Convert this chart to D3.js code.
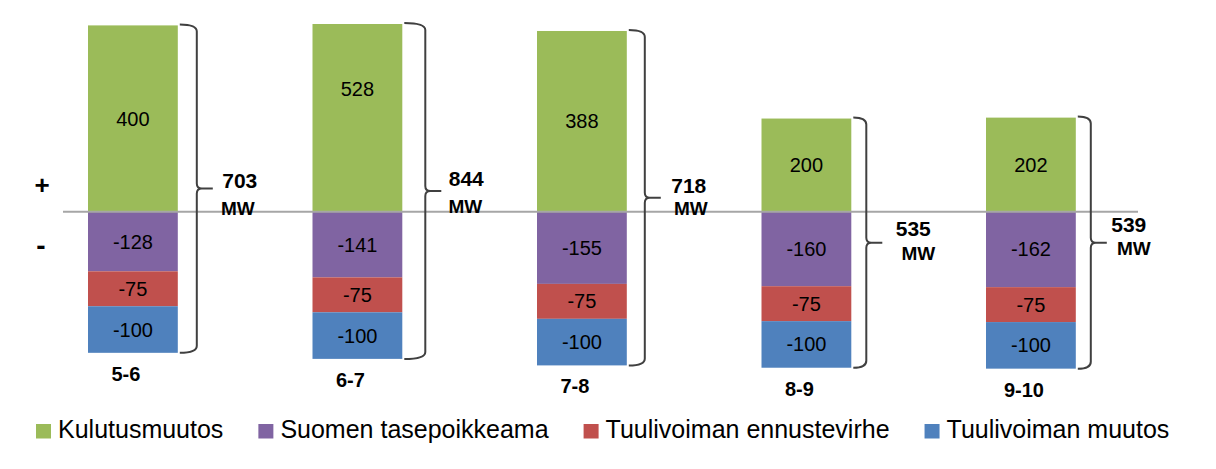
<!DOCTYPE html>
<html>
<head>
<meta charset="utf-8">
<script src="https://cdn.jsdelivr.net/npm/d3@7"></script>
<style>
  html, body { margin: 0; padding: 0; background: #fff; }
  svg { display: block; font-family: "Liberation Sans", Arial, sans-serif; }
</style>
</head>
<body>
<svg id="chart" width="1216" height="469"></svg>
<script>
// ---- Data ----
const categories = ["5-6", "6-7", "7-8", "8-9", "9-10"];
const seriesNames = ["Kulutusmuutos", "Suomen tasepoikkeama", "Tuulivoiman ennustevirhe", "Tuulivoiman muutos"];
const kulutusmuutos = [400, 528, 388, 200, 202];
const suomenTasepoikkeama = [-128, -141, -155, -160, -162];
const tuulivoimanEnnustevirhe = [-75, -75, -75, -75, -75];
const tuulivoimanMuutos = [-100, -100, -100, -100, -100];
const unitLabel = "MW";

// ---- Layout / style config ----
const colors = ["#9BBB59", "#8064A2", "#C0504D", "#4F81BD"];
const braceGap = [19, 23, 18, 15, 15];      // distance from bar edge to brace spine
const totalDx = [27, 25, 28, 31, 22];       // total label offset from brace tip
const totalDy = [-8, -12, -12, -14, -18];
const mwDx = [-2, -1, 2, 5, 5];
const mwGap = [28, 27, 23, 25, 24];

const W = 1216, H = 469;
const svg = d3.select("#chart");

const rows = categories.map((c, i) => ({
  cat: c,
  [seriesNames[0]]: kulutusmuutos[i],
  [seriesNames[1]]: suomenTasepoikkeama[i],
  [seriesNames[2]]: tuulivoimanEnnustevirhe[i],
  [seriesNames[3]]: tuulivoimanMuutos[i]
}));

const stack = d3.stack().keys(seriesNames).offset(d3.stackOffsetDiverging);
const series = stack(rows);

const x = d3.scaleBand().domain(categories).range([43.1, 1120.7]).paddingInner(0.6).paddingOuter(0.2);
const y = d3.scaleLinear().domain([-400, 403]).range([398, 24]);
const color = d3.scaleOrdinal().domain(seriesNames).range(colors);
const yMax = y.domain()[1];

svg.append("defs").append("clipPath").attr("id", "plotClip")
  .append("rect").attr("x", 0).attr("y", y(yMax)).attr("width", W).attr("height", H);

// bars
const gBars = svg.append("g").attr("clip-path", "url(#plotClip)");
gBars.selectAll("g.series").data(series).join("g")
  .attr("fill", d => color(d.key))
  .selectAll("rect").data(d => d).join("rect")
  .attr("x", d => x(d.data.cat))
  .attr("width", x.bandwidth())
  .attr("y", d => y(Math.max(d[0], d[1])))
  .attr("height", d => Math.abs(y(d[0]) - y(d[1])));

// value labels (centered on the unclipped segment)
const gVals = svg.append("g").attr("font-size", 20).attr("fill", "#000").attr("text-anchor", "middle");
series.forEach(s => {
  s.forEach(d => {
    gVals.append("text")
      .attr("x", x(d.data.cat) + x.bandwidth() / 2)
      .attr("y", (y(d[0]) + y(d[1])) / 2)
      .attr("dy", "0.35em")
      .text(d.data[s.key]);
  });
});

// zero line
svg.append("line")
  .attr("x1", 63).attr("x2", 1138)
  .attr("y1", y(0)).attr("y2", y(0))
  .attr("stroke", "#A6A6A6").attr("stroke-width", 2);

// + / - signs
svg.append("text").attr("x", 42).attr("y", 185).attr("dy", "0.35em")
  .attr("text-anchor", "middle").attr("font-size", 26).attr("font-weight", "bold").text("+");
svg.append("text").attr("x", 41).attr("y", 245).attr("dy", "0.35em")
  .attr("text-anchor", "middle").attr("font-size", 28).attr("font-weight", "bold").text("-");

// braces + totals + category labels
categories.forEach((c, i) => {
  const pos = kulutusmuutos[i];
  const neg = suomenTasepoikkeama[i] + tuulivoimanEnnustevirhe[i] + tuulivoimanMuutos[i];
  const total = pos - neg;
  const x0 = x(c) + x.bandwidth();
  const vx = x0 + braceGap[i];
  const yt = y(Math.min(pos, yMax)) - 1;
  const yb = y(neg);
  const ym = (yt + yb) / 2;
  const tip = 16;
  const p = d3.path();
  p.moveTo(x0 + 2, yt);
  p.quadraticCurveTo(vx, yt, vx, yt + 7);
  p.lineTo(vx, ym - 5);
  p.quadraticCurveTo(vx, ym, vx + 5, ym);
  p.lineTo(vx + tip, ym);
  p.moveTo(vx + 5, ym);
  p.quadraticCurveTo(vx, ym, vx, ym + 5);
  p.lineTo(vx, yb - 7);
  p.quadraticCurveTo(vx, yb, x0 + 2, yb);
  svg.append("path").attr("d", p.toString())
    .attr("fill", "none").attr("stroke", "#404040").attr("stroke-width", 2);

  const tx = vx + tip + totalDx[i];
  const ty = ym + totalDy[i];
  svg.append("text").attr("x", tx).attr("y", ty).attr("dy", "0.35em")
    .attr("text-anchor", "middle").attr("font-size", 21).attr("font-weight", "bold")
    .text(total);
  svg.append("text").attr("x", tx + mwDx[i]).attr("y", ty + mwGap[i]).attr("dy", "0.35em")
    .attr("text-anchor", "middle").attr("font-size", 19).attr("font-weight", "bold")
    .text(unitLabel);

  svg.append("text")
    .attr("x", x(c) + x.bandwidth() / 2 - 7)
    .attr("y", yb + 21).attr("dy", "0.35em")
    .attr("text-anchor", "middle").attr("font-size", 20).attr("font-weight", "bold")
    .text(c);
});

// legend
const legend = svg.append("g").attr("font-size", 25);
let lx = 36;
seriesNames.forEach((name, i) => {
  legend.append("rect").attr("x", lx).attr("y", 424).attr("width", 15).attr("height", 14.5)
    .attr("fill", colors[i]);
  const t = legend.append("text").attr("x", lx + 22).attr("y", 438)
    .attr("fill", "#000").text(name);
  lx += 22 + t.node().getComputedTextLength() + 35;
});
</script>
</body>
</html>
